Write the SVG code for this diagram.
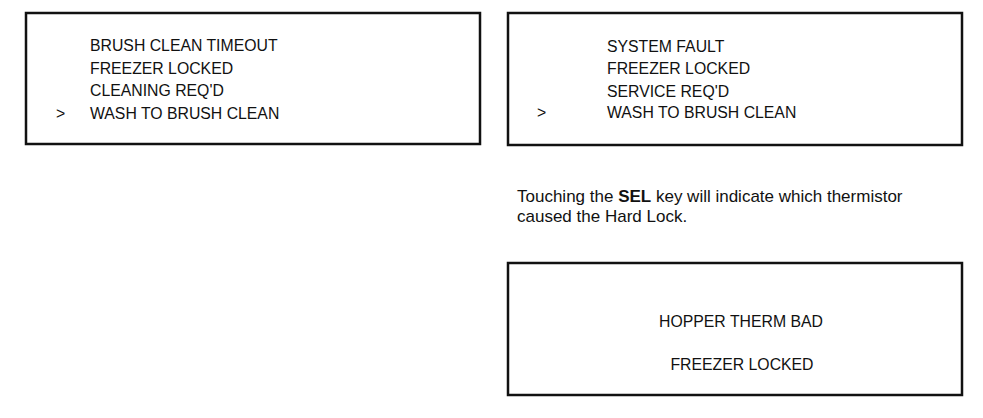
<svg xmlns="http://www.w3.org/2000/svg" width="983" height="418" viewBox="0 0 983 418">
<style>
.box{fill:#fff;stroke:#111;stroke-width:2.5}
.t{font-family:"Liberation Sans",Arial,sans-serif;font-size:15.8px;fill:#111}
.p{font-family:"Liberation Sans",Arial,sans-serif;font-size:17px;fill:#111}
</style>
<rect width="983" height="418" fill="#fff"/>
<g id="screen-brush">
<rect class="box" x="26" y="13" width="454" height="131"/>
<text class="t" x="90" y="51">BRUSH CLEAN TIMEOUT</text>
<text class="t" x="90" y="73.5">FREEZER LOCKED</text>
<text class="t" x="90" y="96">CLEANING REQ'D</text>
<text class="t" x="56" y="118.5">&gt;</text>
<text class="t" x="90" y="118.5">WASH TO BRUSH CLEAN</text>
</g>
<g id="screen-system">
<rect class="box" x="508" y="13" width="454" height="132"/>
<text class="t" x="607" y="51.5">SYSTEM FAULT</text>
<text class="t" x="607" y="73.5">FREEZER LOCKED</text>
<text class="t" x="607" y="96.5">SERVICE REQ'D</text>
<text class="t" x="537" y="118">&gt;</text>
<text class="t" x="607" y="118">WASH TO BRUSH CLEAN</text>
</g>
<g id="note">
<text class="p" x="517" y="202">Touching the <tspan font-weight="bold">SEL</tspan> key will indicate which thermistor</text>
<text class="p" x="517" y="222">caused the Hard Lock.</text>
</g>
<g id="screen-hopper">
<rect class="box" x="508" y="263" width="454" height="132"/>
<text class="t" x="741" y="326.5" text-anchor="middle">HOPPER THERM BAD</text>
<text class="t" x="742" y="370" text-anchor="middle">FREEZER LOCKED</text>
</g>
<g id="connectors"/>
</svg>
